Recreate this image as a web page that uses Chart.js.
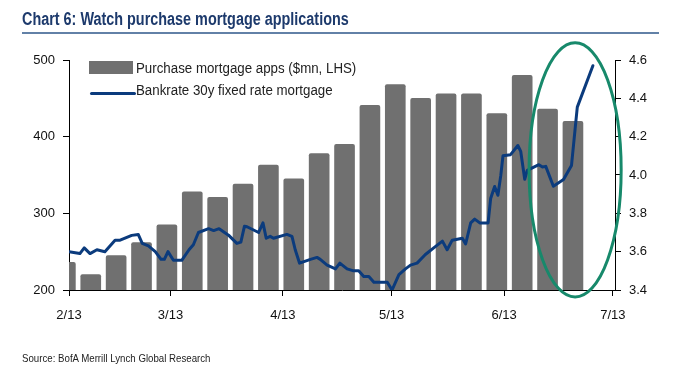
<!DOCTYPE html>
<html>
<head>
<meta charset="utf-8">
<script src="https://cdn.jsdelivr.net/npm/chart.js@4"></script>
<style>
  html,body{margin:0;padding:0;background:#fff;}
  #wrap{position:relative;width:684px;height:382px;overflow:hidden;}
  #c{position:absolute;left:0;top:0;}
  .t{position:absolute;white-space:nowrap;font-family:"Liberation Sans",Arial,sans-serif;transform-origin:0 0;}
  #title{left:22px;top:9px;font-size:18px;font-weight:bold;color:#1d3a6c;transform:scaleX(0.8);}
  #rule{position:absolute;left:22px;top:32px;width:637px;height:2px;background:#6281a7;}
  #src{left:22px;top:352px;font-size:11px;color:#222;transform:scaleX(0.88);}
  .leg{font-size:14px;color:#222;transform:scaleX(0.95);}
  #lb{position:absolute;left:89px;top:61px;width:44px;height:13px;background:#707070;}
  #ll{position:absolute;left:90px;top:92px;width:46px;height:3px;background:#0b3b7d;border-radius:2px;}
</style>
</head>
<body>
<div id="wrap">
  <canvas id="c" width="684" height="382"></canvas>
  <div class="t" id="title">Chart 6: Watch purchase mortgage applications</div>
  <div id="rule"></div>
  <div id="lb"></div>
  <div class="t leg" id="lt1" style="left:136px;top:60px;">Purchase mortgage apps ($mn, LHS)</div>
  <div id="ll"></div>
  <div class="t leg" id="lt2" style="left:136px;top:82px;">Bankrate 30y fixed rate mortgage</div>
  <div class="t" id="src">Source: BofA Merrill Lynch Global Research</div>
</div>
<script>
// ---- data (x = days since 1 Feb 2013) ----
const monthTickDays = [0, 28, 59, 89, 120, 150];
const monthTickLabels = ['2/13', '3/13', '4/13', '5/13', '6/13', '7/13'];

// weekly purchase mortgage applications ($mn, LHS)
const barDays = [-1, 6, 13, 20, 27, 34, 41, 48, 55, 62, 69, 76, 83, 90, 97, 104, 111, 118, 125, 132, 139];
const barValues = [236, 220, 245, 262, 285, 328, 321, 338, 363, 345, 378, 390, 441, 468, 450, 456, 456, 430, 480, 436, 420];

// Bankrate 30y fixed rate mortgage (%, RHS)
const lineDays = [0, 3, 4.2, 5.8, 7.7, 9.9, 12.7, 14.1, 17.3, 19.1, 20.2, 21.9, 23.8, 25.4, 26.3, 27.3, 28.8, 31.1,
  33.1, 34.3, 35.7, 38.5, 39.9, 41.4, 44.0, 46.3, 47.4, 48.4, 49.1, 52.3, 53.5, 54.4, 55.5, 56.4, 60.1, 61.5, 62.4,
  63.6, 66.6, 68.4, 69.3, 71.2, 73.5, 74.7, 76.7, 78.5, 79.9, 81.3, 82.7, 84.1, 87.8, 89.1, 91.0, 92.8, 94.2, 96.0,
  98.3, 100.6, 103.0, 104.3, 105.7, 108.5, 109.4, 110.8, 111.9, 113.3, 115.6, 116.3, 117.4, 118.3, 119.1, 119.7,
  121.8, 123.8, 124.6, 125.7, 126.4, 129.6, 130.6, 131.5, 133.6, 136.4, 138.6, 139.6, 140.2, 144.5];
const lineRates = [3.60, 3.59, 3.62, 3.59, 3.61, 3.60, 3.66, 3.66, 3.685, 3.69, 3.643, 3.63, 3.60, 3.56, 3.56, 3.60, 3.555, 3.555,
  3.61, 3.636, 3.70, 3.72, 3.71, 3.72, 3.686, 3.643, 3.65, 3.733, 3.73, 3.70, 3.75, 3.67, 3.68, 3.67, 3.69, 3.68, 3.61,
  3.54, 3.56, 3.57, 3.56, 3.53, 3.51, 3.54, 3.51, 3.50, 3.50, 3.47, 3.47, 3.44, 3.44, 3.40, 3.48, 3.51, 3.53, 3.54,
  3.585, 3.62, 3.655, 3.61, 3.66, 3.67, 3.64, 3.75, 3.77, 3.75, 3.75, 3.877, 3.94, 3.894, 3.998, 4.10,
  4.106, 4.154, 4.123, 3.978, 4.024, 4.054, 4.042, 4.045, 3.941, 3.976, 4.05, 4.241, 4.354, 4.57];

// highlight ellipse (in data units: days, rate)
const ellipseCenter = {day: 139.6, rate: 4.027};
const ellipseRadius = {days: 12.7, rate: 0.663};

const font = {family: '"Liberation Sans", Arial, sans-serif', size: 13};

const ellipsePlugin = {
  id: 'ellipse',
  afterDraw(chart) {
    const xs = chart.scales.x, ys = chart.scales.y1, ctx = chart.ctx;
    const cx = xs.getPixelForValue(ellipseCenter.day);
    const cy = ys.getPixelForValue(ellipseCenter.rate);
    const rx = Math.abs(xs.getPixelForValue(ellipseCenter.day + ellipseRadius.days) - cx);
    const ry = Math.abs(ys.getPixelForValue(ellipseCenter.rate + ellipseRadius.rate) - cy);
    ctx.save();
    ctx.beginPath();
    ctx.ellipse(cx, cy, rx, ry, 0, 0, Math.PI * 2);
    ctx.strokeStyle = '#17896b';
    ctx.lineWidth = 3;
    ctx.stroke();
    ctx.restore();
  }
};

new Chart(document.getElementById('c'), {
  type: 'bar',
  data: {
    datasets: [
      {
        type: 'line',
        label: 'Bankrate 30y fixed rate mortgage',
        data: lineDays.map((d, i) => ({x: d, y: lineRates[i]})),
        yAxisID: 'y1',
        borderColor: '#0b3b7d',
        borderWidth: 3,
        pointRadius: 0,
        tension: 0,
        order: 0,
        borderJoinStyle: 'round',
        borderCapStyle: 'round'
      },
      {
        type: 'bar',
        label: 'Purchase mortgage apps ($mn, LHS)',
        data: barDays.map((d, i) => ({x: d, y: barValues[i]})),
        yAxisID: 'y',
        backgroundColor: '#707070',
        barThickness: 20,
        borderRadius: {topLeft: 2, topRight: 2},
        order: 1
      }
    ]
  },
  options: {
    responsive: false,
    animation: false,
    devicePixelRatio: 1,
    layout: {padding: {top: 60, left: 0, right: 0, bottom: 0}},
    plugins: {legend: {display: false}, tooltip: {enabled: false}},
    scales: {
      x: {
        type: 'linear',
        offset: false,
        min: 0,
        max: 150.6,
        afterBuildTicks(s) { s.ticks = monthTickDays.map(v => ({value: v})); },
        afterFit(s) { s.height = 92; },
        ticks: {
          autoSkip: false,
          maxRotation: 0,
          padding: 12,
          color: '#111',
          font: font,
          callback: (v) => monthTickLabels[monthTickDays.indexOf(v)]
        },
        grid: {offset: false, drawOnChartArea: false, drawTicks: true, tickLength: 6, color: '#000', lineWidth: 1},
        border: {color: '#000', width: 1}
      },
      y: {
        position: 'left',
        min: 200,
        max: 500,
        afterFit(s) { s.width = 69; },
        ticks: {stepSize: 100, padding: 8, color: '#111', font: font},
        grid: {drawOnChartArea: false, drawTicks: true, tickLength: 6, color: '#000'},
        border: {color: '#000', width: 1}
      },
      y1: {
        position: 'right',
        min: 3.4,
        max: 4.6,
        afterFit(s) { s.width = 69; },
        ticks: {stepSize: 0.2, padding: 8, color: '#111', font: font, callback: v => v.toFixed(1)},
        grid: {drawOnChartArea: false, drawTicks: true, tickLength: 6, color: '#000'},
        border: {color: '#000', width: 1}
      }
    }
  },
  plugins: [ellipsePlugin]
});
</script>
</body>
</html>
